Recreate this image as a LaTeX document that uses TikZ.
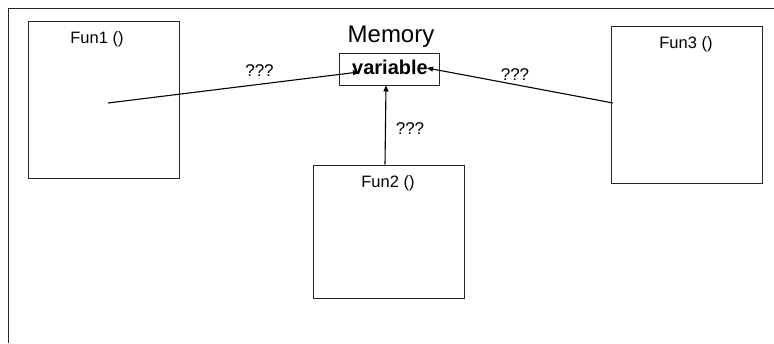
\documentclass[tikz,border=0pt]{standalone}
\usepackage{fontspec}
\setmainfont{Liberation Sans}
\usetikzlibrary{arrows.meta}
\begin{document}
\begin{tikzpicture}[x=1pt,y=-1pt,
  funbox/.style={draw=black!85,line width=1pt,minimum width=151pt,inner sep=0pt},
  lbl/.style={font=\fontsize{16.5}{18}\selectfont,inner sep=0pt,anchor=base},
  qlbl/.style={font=\fontsize{17}{18}\selectfont,inner sep=0pt,anchor=base},
  conn/.style={line width=1.1pt,-{Triangle[length=6pt,width=5pt]}}]
\useasboundingbox (0,0) rectangle (774,343);
\fill[white] (0,0) rectangle (774,343);
\draw[black!85,line width=1pt] (8,343) -- (8,8) -- (774,8);
% boxes
\node[funbox,minimum height=157pt] (f1) at (103.5,99.5) {};
\node[funbox,minimum height=133pt] (f2) at (388.5,231.5) {};
\node[funbox,minimum height=157pt] (f3) at (686.5,104.5) {};
\node[lbl] (t1) at (97,43) {Fun1 ()};
\node[lbl] (t2) at (388,187) {Fun2 ()};
\node[lbl] (t3) at (686,48) {Fun3 ()};
% memory
\node[font=\fontsize{24}{26}\selectfont,inner sep=0pt,anchor=base] (mem) at (391,42) {Memory};
\node[draw=black!85,line width=1pt,minimum width=100pt,minimum height=32pt,inner sep=0pt] (var) at (389,69) {};
\node[font=\bfseries\fontsize{20}{22}\selectfont,inner sep=0pt,anchor=base] (vt) at (390,74) {variable};
% labels
\node[qlbl] (q1) at (259.5,76) {???};
\node[qlbl] (q2) at (410,134) {???};
\node[qlbl] (q3) at (515,80) {???};
% connector ends
\coordinate (s1) at (108,103);
\coordinate (e1) at (359,72);
\coordinate (s3) at (613,103);
\coordinate (e3) at (427,68);
\draw[conn] (s1) -- (e1);
\draw[conn] (f2.north -| 385,0) -- (var.south -| 386,0);
\draw[conn] (s3) -- (e3);
\end{tikzpicture}
\end{document}
